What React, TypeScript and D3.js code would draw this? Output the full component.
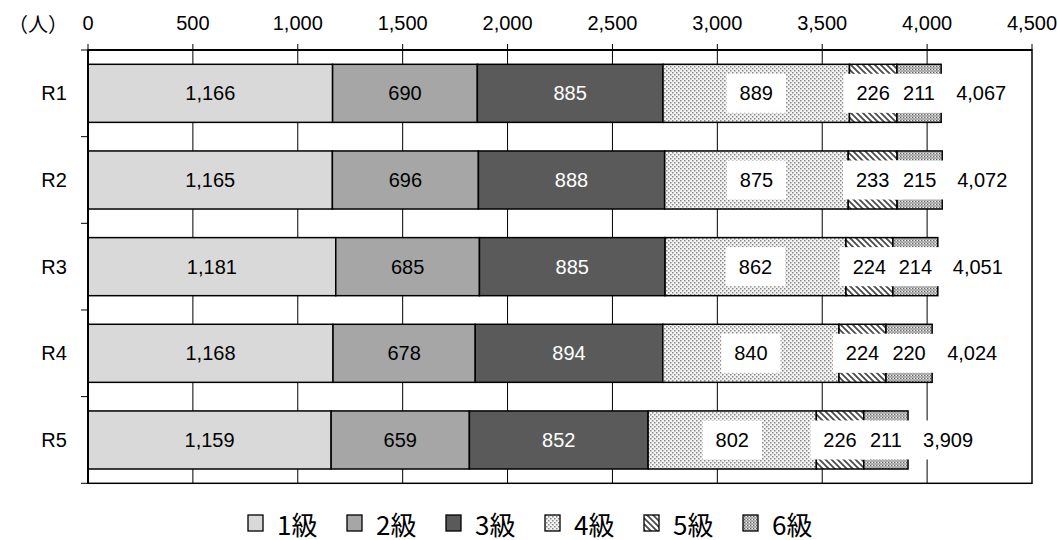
import React from "react";
import * as d3 from "d3";

const categories = ["R1", "R2", "R3", "R4", "R5"];
const seriesNames = ["1級", "2級", "3級", "4級", "5級", "6級"];
const grade1 = [1166, 1165, 1181, 1168, 1159];
const grade2 = [690, 696, 685, 678, 659];
const grade3 = [885, 888, 885, 894, 852];
const grade4 = [889, 875, 862, 840, 802];
const grade5 = [226, 233, 224, 224, 226];
const grade6 = [211, 215, 214, 220, 211];
const totals = [4067, 4072, 4051, 4024, 3909];
const xTickValues = [0, 500, 1000, 1500, 2000, 2500, 3000, 3500, 4000, 4500];
const unitLabel = "（人）";

const W = 1057;
const H = 540;
const M = { left: 88, right: 1032, top: 50, bottom: 483.3 };
const FONT = "'Liberation Sans', Arial, 'Noto Sans CJK JP', sans-serif";
const FS = 20;

let ctx: CanvasRenderingContext2D | null = null;
function textW(s: string, size: number) {
  if (!ctx) ctx = document.createElement("canvas").getContext("2d");
  if (!ctx) return s.length * size * 0.55;
  ctx.font = `${size}px ${FONT}`;
  return ctx.measureText(s).width;
}

const fills = ["#d9d9d9", "#a6a6a6", "#5a5a5a", "url(#p4)", "url(#p5)", "url(#p6)"];

export default function App() {
  const fmt = d3.format(",");
  const x = d3.scaleLinear().domain([0, 4500]).range([M.left, M.right]);
  const y = d3.scaleBand<string>().domain(categories).range([M.top, M.bottom]).paddingInner(0.33).paddingOuter(0.165);
  const yOuter = d3.scaleBand<string>().domain(categories).range([M.top, M.bottom]);

  const rows = categories.map((c, i) => {
    const r: any = { cat: c };
    const vals = [grade1[i], grade2[i], grade3[i], grade4[i], grade5[i], grade6[i]];
    seriesNames.forEach((s, j) => (r[s] = vals[j]));
    return r;
  });
  const stacked = d3.stack<any>().keys(seriesNames)(rows);

  const bh = y.bandwidth();
  const boundaries = categories.map((c) => yOuter(c)!).concat([M.bottom]);

  const legendX0 = 248;
  const legendStep = 99;
  const legendY = 523;

  return (
    <svg width={W} height={H} style={{ position: "absolute", left: 0, top: 0, background: "#fff" }} fontFamily={FONT}>
      <defs>
        <pattern id="p4" width="4" height="4" patternUnits="userSpaceOnUse">
          <rect width="4" height="4" fill="#f3f3f3" />
          <rect x="0" y="0" width="1.5" height="1.5" fill="#8a8a8a" />
          <rect x="2" y="2" width="1.5" height="1.5" fill="#8a8a8a" />
        </pattern>
        <pattern id="p5" width="6" height="6" patternUnits="userSpaceOnUse">
          <rect width="6" height="6" fill="#ffffff" />
          <path d="M-1,-1 L7,7 M-1,5 L1,7 M5,-1 L7,1" stroke="#4a4a4a" strokeWidth="1.8" />
        </pattern>
        <pattern id="p6" width="3" height="3" patternUnits="userSpaceOnUse">
          <rect width="3" height="3" fill="#b8b8b8" />
          <rect x="0" y="0" width="1" height="1" fill="#626262" />
          <rect x="1.5" y="1.5" width="1" height="1" fill="#808080" />
          <rect x="2" y="0" width="1" height="1" fill="#f0f0f0" />
        </pattern>
      </defs>

      {/* gridlines */}
      {xTickValues.slice(1, -1).map((t) => (
        <line key={"g" + t} x1={x(t)} x2={x(t)} y1={M.top} y2={M.bottom} stroke="#000" strokeWidth={1} />
      ))}

      {/* top ticks & labels */}
      {xTickValues.map((t) => (
        <g key={"t" + t}>
          <line x1={x(t)} x2={x(t)} y1={M.top - 6} y2={M.top} stroke="#000" strokeWidth={1} />
          <text x={x(t)} y={23} textAnchor="middle" dominantBaseline="central" fontSize={FS}>
            {fmt(t)}
          </text>
        </g>
      ))}
      <text x={38} y={23} textAnchor="middle" dominantBaseline="central" fontSize={FS} fontFamily="'Noto Sans CJK JP', sans-serif">
        {unitLabel}
      </text>

      {/* left ticks */}
      {boundaries.map((b, i) => (
        <line key={"lt" + i} x1={M.left - 7} x2={M.left} y1={b} y2={b} stroke="#000" strokeWidth={1} />
      ))}
      {categories.map((c) => (
        <text key={"c" + c} x={54} y={yOuter(c)! + yOuter.bandwidth() / 2} textAnchor="middle" dominantBaseline="central" fontSize={FS}>
          {c}
        </text>
      ))}

      {/* bars */}
      {stacked.map((s, j) =>
        s.map((d, i) => (
          <rect
            key={`b${j}-${i}`}
            x={x(d[0])}
            y={y(categories[i])}
            width={x(d[1]) - x(d[0])}
            height={bh}
            fill={fills[j]}
            stroke="#000"
            strokeWidth={1.5}
          />
        ))
      )}

      {/* labels */}
      {stacked.map((s, j) =>
        s.map((d, i) => {
          const cx = (x(d[0]) + x(d[1])) / 2;
          const cy = y(categories[i])! + bh / 2;
          const label = fmt(d[1] - d[0]);
          const tw = textW(label, FS);
          return (
            <g key={`l${j}-${i}`}>
              {j >= 3 && <rect x={cx - tw / 2 - 13} y={cy - 19.5} width={tw + 26} height={39} fill="#fff" />}
              <text x={cx} y={cy} textAnchor="middle" dominantBaseline="central" fontSize={FS} fill={j === 2 ? "#fff" : "#000"}>
                {label}
              </text>
            </g>
          );
        })
      )}

      {/* totals */}
      {totals.map((t, i) => {
        const xe = x(t);
        const cy = y(categories[i])! + bh / 2;
        const label = fmt(t);
        const tw = textW(label, FS);
        return (
          <g key={"tot" + i}>
            <rect x={xe + 5} y={cy - 19.5} width={tw + 20} height={39} fill="#fff" />
            <text x={xe + 15} y={cy} dominantBaseline="central" fontSize={FS}>
              {label}
            </text>
          </g>
        );
      })}

      {/* frame */}
      <rect x={M.left} y={M.top} width={M.right - M.left} height={M.bottom - M.top} fill="none" stroke="#000" strokeWidth={1.5} />
      <line x1={M.left} x2={M.right} y1={M.top} y2={M.top} stroke="#000" strokeWidth={2} />
      <line x1={M.left} x2={M.left} y1={M.top} y2={M.bottom} stroke="#000" strokeWidth={2} />

      {/* legend */}
      {seriesNames.map((s, j) => {
        const lx = legendX0 + j * legendStep;
        return (
          <g key={"lg" + s}>
            <rect x={lx} y={legendY - 8} width={15} height={16} fill={fills[j]} stroke="#000" strokeWidth={1.3} />
            <text x={lx + 29} y={legendY} dominantBaseline="central" fontSize={26} fontFamily="'Noto Sans CJK JP', sans-serif">
              {s}
            </text>
          </g>
        );
      })}
    </svg>
  );
}
